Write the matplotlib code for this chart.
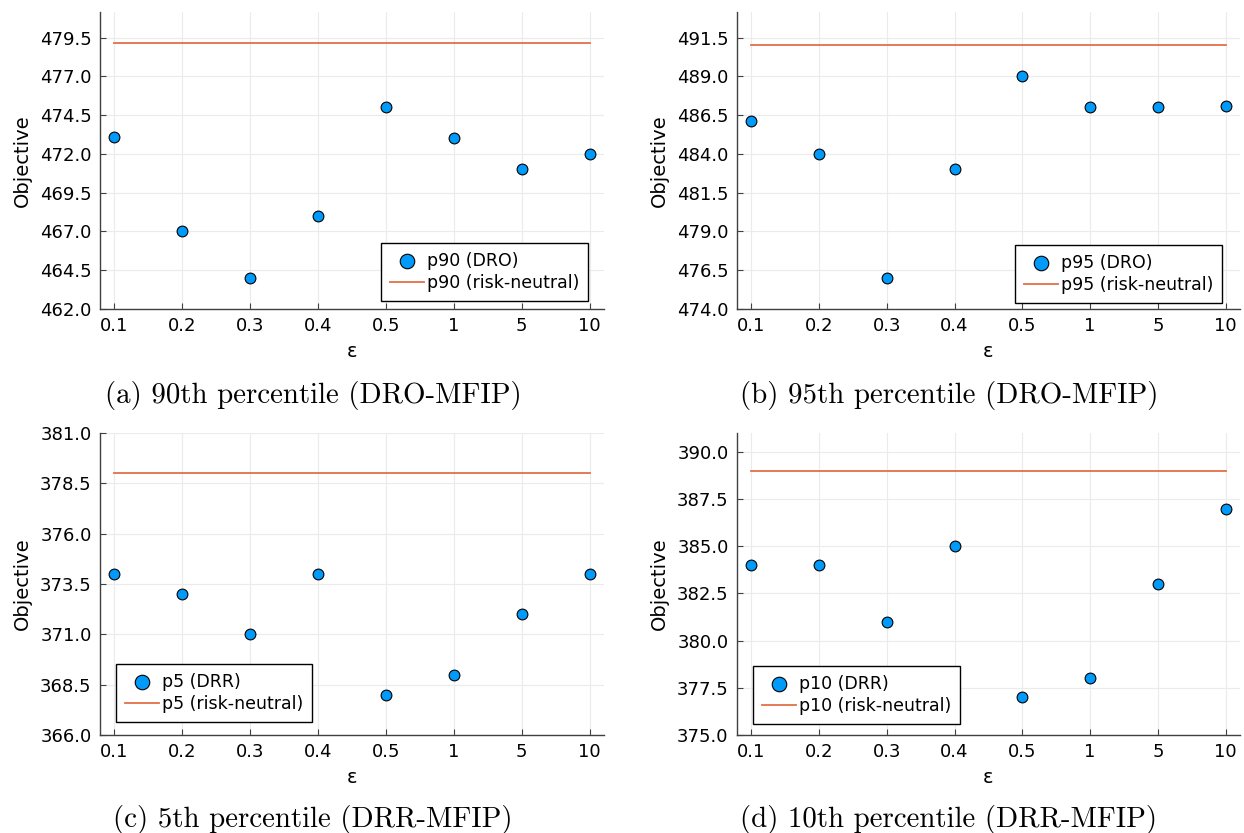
import matplotlib
matplotlib.use("Agg")
import matplotlib.pyplot as plt
import numpy as np

# x categories (epsilon)
eps_labels = ["0.1", "0.2", "0.3", "0.4", "0.5", "1", "5", "10"]

# objective values
p90_dro = [473.1, 467.0, 464.0, 468.0, 475.0, 473.0, 471.0, 472.0]
p90_neutral = 479.15
p95_dro = [486.1, 484.0, 476.0, 483.0, 489.0, 487.0, 487.0, 487.1]
p95_neutral = 491.05
p5_drr = [374.0, 373.0, 371.0, 374.0, 368.0, 369.0, 372.0, 374.0]
p5_neutral = 379.0
p10_drr = [384.0, 384.0, 381.0, 385.0, 377.0, 378.0, 383.0, 387.0]
p10_neutral = 389.0

panels = [
    # values, neutral, labels, caption, ylim, legend loc
    (p90_dro, p90_neutral, ("p90 (DRO)", "p90 (risk-neutral)"),
     "(a) 90th percentile (DRO-MFIP)", (462.0, 481.15), "lower right"),
    (p95_dro, p95_neutral, ("p95 (DRO)", "p95 (risk-neutral)"),
     "(b) 95th percentile (DRO-MFIP)", (474.0, 493.15), "lower right"),
    (p5_drr, p5_neutral, ("p5 (DRR)", "p5 (risk-neutral)"),
     "(c) 5th percentile (DRR-MFIP)", (366.0, 381.0), "lower left"),
    (p10_drr, p10_neutral, ("p10 (DRR)", "p10 (risk-neutral)"),
     "(d) 10th percentile (DRR-MFIP)", (375.0, 391.0), "lower left"),
]

W, H = 1244, 833
fig = plt.figure(figsize=(W / 100, H / 100), dpi=100)

# axes boxes in pixels: left, top, right, bottom
boxes = [(100, 12, 604, 309), (737, 12, 1240, 309),
         (100, 433, 604, 735), (737, 433, 1240, 735)]
caption_pos = [(313, 396), (949, 396), (313, 819), (949, 819)]
# legend corner offsets from the axes corner, pixels (x gap, y gap)
legend_gap = [(16, 8), (18, 6), (16, 13), (16, 11)]

blue = "#009AFA"
orange = "#E26F46"
spine_col = "#404040"

x = np.arange(1, len(eps_labels) + 1)

for (vals, neutral, labs, cap, ylim, loc), box, cpos, gap in zip(
        panels, boxes, caption_pos, legend_gap):
    l, t, r, b = box
    ax = fig.add_axes([l / W, 1 - b / H, (r - l) / W, (b - t) / H])
    ax.scatter(x, vals, s=60, color=blue, edgecolors="black", linewidths=0.8,
               zorder=3, label=labs[0])
    ax.plot([x[0], x[-1]], [neutral, neutral], color=orange, lw=1.3,
            zorder=2, label=labs[1])
    ax.set_xlim(0.79, 8.21)
    ax.set_ylim(*ylim)
    ax.set_xticks(x)
    ax.set_xticklabels(eps_labels)
    ax.set_yticks(np.arange(ylim[0], ylim[1] + 0.01, 2.5))
    ax.yaxis.set_major_formatter(matplotlib.ticker.FormatStrFormatter("%.1f"))
    ax.grid(True, color="#ebebeb", lw=0.8)
    ax.set_axisbelow(True)
    for s in ["top", "right"]:
        ax.spines[s].set_visible(False)
    for s in ["left", "bottom"]:
        ax.spines[s].set_color(spine_col)
        ax.spines[s].set_linewidth(1.0)
    ax.tick_params(direction="in", length=4, width=0.8, color=spine_col,
                   labelsize=13, pad=6)
    ax.set_xlabel("ε", fontsize=14, labelpad=5)
    ax.set_ylabel("Objective", fontsize=14, labelpad=6)
    if loc == "lower right":
        anchor = (1 - gap[0] / (r - l), gap[1] / (b - t))
    else:
        anchor = (gap[0] / (r - l), gap[1] / (b - t))
    leg = ax.legend(loc=loc, bbox_to_anchor=anchor, borderaxespad=0,
                    fontsize=12.5, fancybox=False, framealpha=1,
                    edgecolor="black", handlelength=2.0,
                    handletextpad=0.15, borderpad=0.5, labelspacing=0.25,
                    markerscale=1.35)
    leg.get_frame().set_linewidth(1.0)
    fig.text(cpos[0] / W, 1 - cpos[1] / H, cap, family="cmr10", fontsize=20.8,
             ha="center", va="center")

fig.savefig("out.png", dpi=100)
